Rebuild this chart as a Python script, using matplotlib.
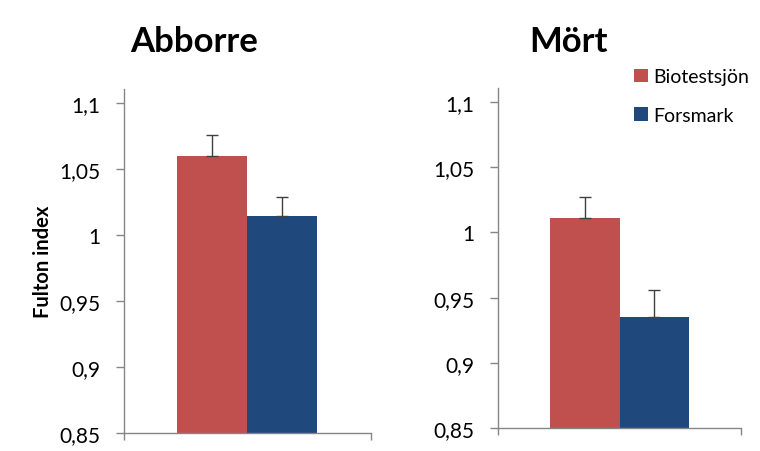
import matplotlib
matplotlib.use("Agg")
import matplotlib.pyplot as plt

plt.rcParams['font.family'] = ['Lato', 'DejaVu Sans']

species = ["Abborre", "Mört"]
sites = ["Biotestsjön", "Forsmark"]
means = {"Abborre": [1.060, 1.0146], "Mört": [1.0107, 0.935]}
err_up = {"Abborre": [0.016, 0.014], "Mört": [0.016, 0.021]}
yticks = [0.85, 0.9, 0.95, 1.0, 1.05, 1.1]
yticklabels = ["0,85", "0,9", "0,95", "1", "1,05", "1,1"]
colors = ["#C0504D", "#1F497D"]
ylabel = "Fulton index"

fig = plt.figure(figsize=(7.6, 4.52), dpi=100)
W, H = 760, 452
boxes = {"Abborre": (124, 371, 434, 90, 1.1106, (-1.257, 2.271), 194),
         "Mört": (498, 741, 429.3, 89, 1.1105, (-1.25, 2.25), 568)}
gray = "#868686"
for sp in species:
    x0, x1, yb, yt, ymax, xl, tx = boxes[sp]
    ax = fig.add_axes([x0 / W, 1 - yb / H, (x1 - x0) / W, (yb - yt) / H])
    xs = [0, 1]
    for i in range(2):
        ax.bar(xs[i], means[sp][i], width=1.0, bottom=0, color=colors[i],
               label=sites[i], zorder=2)
        ax.errorbar(xs[i], means[sp][i], yerr=[[0], [err_up[sp][i]]], fmt="none",
                    ecolor="#404040", elinewidth=1.0, capsize=4, capthick=1.0, zorder=3)
    ax.set_ylim(0.85, ymax)
    ax.set_xlim(*xl)
    ax.set_yticks(yticks)
    ax.set_yticklabels(yticklabels, fontsize=15, color="#000000")
    ax.set_xticks(list(xl))
    ax.set_xticklabels([])
    ax.tick_params(axis="y", direction="out", length=6, color=gray, width=1, pad=11)
    ax.tick_params(axis="x", direction="out", length=5, color=gray, width=1)
    for s in ["top", "right"]:
        ax.spines[s].set_visible(False)
    for s in ["left", "bottom"]:
        ax.spines[s].set_color(gray)
        ax.spines[s].set_linewidth(1)
    fig.text(tx / W, 1 - 42 / H, sp, fontsize=25, fontweight="bold",
             ha="center", va="center")
    if sp == "Abborre":
        fig.text(43 / W, 1 - 262 / H, ylabel, fontsize=14.5, fontweight="bold",
                 rotation=90, ha="center", va="center")
    else:
        ax.legend(loc="center left", bbox_to_anchor=((634 - x0) / (x1 - x0), (yb - 97) / (yb - yt)),
                  frameon=False, fontsize=14, handlelength=0.7, handleheight=0.7,
                  labelspacing=1.1, handletextpad=0.3, borderaxespad=0, borderpad=0)

fig.savefig("out.png", dpi=100)
